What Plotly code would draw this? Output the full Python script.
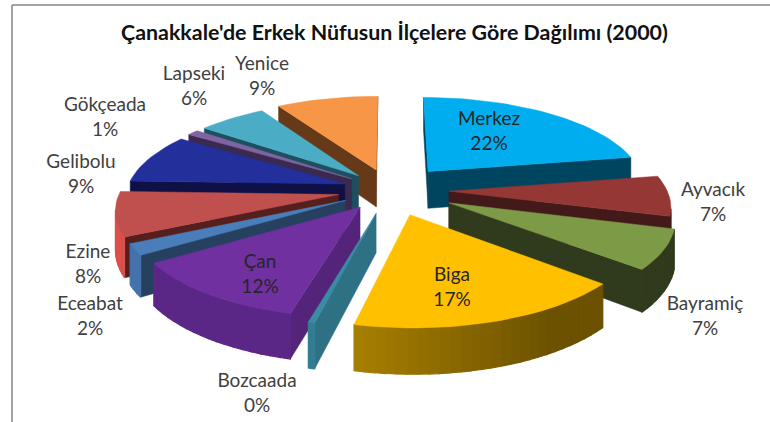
import math
import plotly.graph_objects as go

# ---- data ----
districts = ["Merkez", "Ayvacık", "Bayramiç", "Biga", "Bozcaada", "Çan", "Eceabat",
             "Ezine", "Gelibolu", "Gökçeada", "Lapseki", "Yenice"]
shares = [22.3, 7.1, 6.9, 17.4, 0.4, 11.8, 2, 7.8, 8.8, 1, 5.9, 8.8]
title_text = "Çanakkale'de Erkek Nüfusun İlçelere Göre Dağılımı (2000)"

# ---- style ----
top_colors = ["#00aeef", "#953735", "#7d9a46", "#ffc000", "#3a8ca3", "#7030a0",
              "#4a7ebb", "#c0504d", "#232f9b", "#8064a2", "#4bacc6", "#f79646"]
wall_colors = ["#00455f", "#431919", "#303a1c", "#6b5100", "#2f7184", "#53247a",
               "#264060", "#541f1d", "#0f1046", "#3a2a4f", "#1d4f5e", "#663a18"]
rim_boost = [1, 1, 1, 1.55, 1.1, 1.1, 1.8, 2.6, 1, 1, 1, 1]
explode = [0.28, 0.27, 0.30, 0.28, 0.26, 0.23, 0.23, 0.24, 0.22, 0.22, 0.22, 0.24]
label_xy = [(489, 133), (713, 204), (705, 318), (452, 289), (257, 395), (260, 276),
            (90, 318), (88, 266), (81, 176), (105, 119), (194, 88), (262, 78)]
label_dark = {"Merkez", "Biga", "Çan"}
CX, CY, R, TILT, K, DEPTH = 390, 190, 218, 0.41, 0.142, 38


def project(X, Y, z):
    s = 1 / (1 + K * Y)
    return CX + R * X * s, CY - R * TILT * Y * s + z * DEPTH * s


def shade(hex_color, f):
    r, g, b = (int(hex_color[i:i + 2], 16) for i in (1, 3, 5))
    return f"rgb({min(255, int(r * f))},{min(255, int(g * f))},{min(255, int(b * f))})"


def area(pts):
    return sum(pts[i][0] * pts[(i + 1) % len(pts)][1] - pts[(i + 1) % len(pts)][0] * pts[i][1]
               for i in range(len(pts)))


fig = go.Figure()


def poly(pts, color, width=0.5):
    fig.add_trace(go.Scatter(x=[p[0] for p in pts] + [pts[0][0]],
                             y=[p[1] for p in pts] + [pts[0][1]],
                             mode="lines", fill="toself", fillcolor=color,
                             line=dict(color=color, width=width), hoverinfo="skip",
                             showlegend=False))


total = sum(shares)
slices = []
cum = 0
for i, v in enumerate(shares):
    a0 = cum / total * 2 * math.pi
    cum += v
    a1 = cum / total * 2 * math.pi
    slices.append((i, a0, a1))
slices.sort(key=lambda s: -math.cos((s[1] + s[2]) / 2))

for i, a0, a1 in slices:
    am = (a0 + a1) / 2
    ox, oy = explode[i] * math.sin(am), explode[i] * math.cos(am)
    n = max(2, int((a1 - a0) / 0.04))
    angs = [a0 + (a1 - a0) * j / n for j in range(n + 1)]
    rim = [(ox + math.sin(a), oy + math.cos(a)) for a in angs]
    c = project(ox, oy, 0)
    cb = project(ox, oy, 1)
    top_rim = [project(x, y, 0) for x, y in rim]
    bot_rim = [project(x, y, 1) for x, y in rim]
    w0 = [c, top_rim[0], bot_rim[0], cb]
    w1 = [top_rim[-1], c, cb, bot_rim[-1]]
    if area(w0) < 0:
        poly(w0, wall_colors[i])
    if area(w1) < 0:
        poly(w1, wall_colors[i])
    for j in range(n):
        q = [top_rim[j], top_rim[j + 1], bot_rim[j + 1], bot_rim[j]]
        if area(q) < 0:
            nx = math.sin((angs[j] + angs[j + 1]) / 2)
            f = 1.0 + (rim_boost[i] - 1.0) * min(1.0, max(0.0, (0.55 - nx) / 0.75))
            poly(q, shade(wall_colors[i], f), width=1.2)
    poly([c] + top_rim, top_colors[i])

lx, ly, ltext, lcolor = [], [], [], []
for name, v, (x, y) in zip(districts, shares, label_xy):
    lx.append(x)
    ly.append(y)
    ltext.append(f"{name}<br>{round(v / total * 100)}%")
    lcolor.append("#262626" if name in label_dark else "#404040")
fig.add_trace(go.Scatter(x=lx, y=ly, mode="text", text=ltext,
                         textfont=dict(family="Lato", size=19, color=lcolor),
                         textposition="middle center", hoverinfo="skip", showlegend=False))

fig.update_layout(
    width=770, height=422, margin=dict(l=0, r=0, t=0, b=0),
    paper_bgcolor="white", plot_bgcolor="white",
    xaxis=dict(range=[0, 770], visible=False, fixedrange=True),
    yaxis=dict(range=[422, 0], visible=False, fixedrange=True),
    annotations=[dict(x=394, y=32, xref="x", yref="y", text=f"<b>{title_text}</b>",
                      showarrow=False, font=dict(family="Lato", size=21.4, color="#111111"))],
    shapes=[dict(type="line", x0=12, x1=12, y0=5, y1=422, xref="x", yref="y",
                 line=dict(color="#868686", width=1.5)),
            dict(type="line", x0=12, x1=770, y0=5, y1=5, xref="x", yref="y",
                 line=dict(color="#868686", width=1.5))],
)
fig.write_html("out.html", config=dict(displayModeBar=False),
               post_script="document.body.style.margin='0';document.documentElement.style.overflow='hidden';")
